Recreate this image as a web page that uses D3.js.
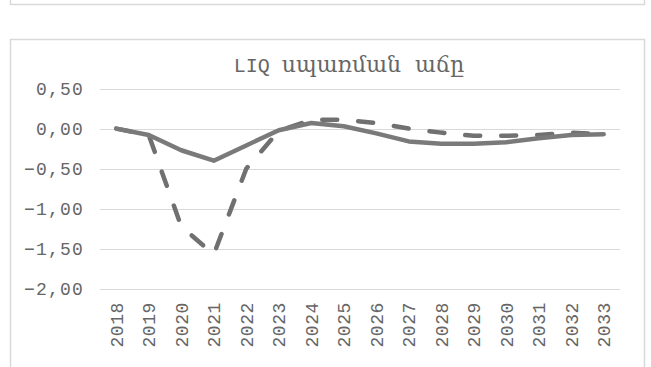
<!DOCTYPE html>
<html>
<head>
<meta charset="utf-8">
<script src="https://cdn.jsdelivr.net/npm/d3@7"></script>
<style>
  html, body { margin: 0; padding: 0; background: #ffffff; }
  svg { display: block; }
</style>
</head>
<body>
<svg id="chart" width="651" height="367"></svg>
<script>
// Years on the horizontal axis
const years = ["2018","2019","2020","2021","2022","2023","2024","2025",
               "2026","2027","2028","2029","2030","2031","2032","2033"];
// Solid line series
const seriesSolid = [0.00, -0.08, -0.27, -0.40, -0.21, -0.02, 0.07, 0.03,
                     -0.06, -0.16, -0.19, -0.19, -0.17, -0.12, -0.08, -0.07];
// Dashed line series
const seriesDashed = [0.00, -0.08, -1.22, -1.57, -0.50, -0.03, 0.11, 0.11,
                      0.07, 0.00, -0.05, -0.09, -0.09, -0.08, -0.05, -0.07];
// Value-axis ticks
const yTicks = [0.5, 0, -0.5, -1, -1.5, -2];
// Title pieces: Latin code and Armenian caption
const titleCode = "LIQ";
const titleWords = "սպառման  աճը";

const svg = d3.select("#chart");
const monoFont = "'Liberation Mono', 'DejaVu Sans Mono', monospace";
const textGray = "#666666";

// Frames of the chart boxes
svg.append("rect")
  .attr("x", 10.5).attr("y", -20).attr("width", 634).attr("height", 24.5)
  .attr("fill", "none").attr("stroke", "#d9d9d9").attr("stroke-width", 1.5);
svg.append("rect")
  .attr("x", 10.5).attr("y", 39.5).attr("width", 634).attr("height", 360)
  .attr("fill", "#ffffff").attr("stroke", "#d9d9d9").attr("stroke-width", 1.5);

const x = d3.scaleBand().domain(years).range([100, 620]);
const y = d3.scaleLinear().domain([-2, 0.5]).range([289, 88.5]);

const fmt = v => d3.format(".2f")(v).replace(".", ",").replace("-", "\u2212");

// Horizontal gridlines
svg.append("g")
  .selectAll("line")
  .data(yTicks)
  .join("line")
  .attr("x1", 100).attr("x2", 620)
  .attr("y1", d => Math.round(y(d)) + 0.5)
  .attr("y2", d => Math.round(y(d)) + 0.5)
  .attr("stroke", "#d9d9d9").attr("stroke-width", 1);

// Value axis labels
const yAxis = d3.axisLeft(y).tickValues(yTicks).tickFormat(fmt).tickSize(0).tickPadding(0);
const yg = svg.append("g").attr("transform", "translate(84,0)").call(yAxis);
yg.select(".domain").remove();
yg.selectAll("text")
  .attr("fill", textGray)
  .style("font-family", monoFont)
  .style("font-size", "18px")
  .style("letter-spacing", "1.2px");

// Category axis labels, rotated
const xAxis = d3.axisBottom(x).tickSize(0).tickPadding(0);
const xg = svg.append("g").attr("transform", "translate(0,289)").call(xAxis);
xg.select(".domain").remove();
xg.selectAll("text")
  .attr("fill", textGray)
  .attr("transform", "rotate(-90)")
  .attr("text-anchor", "end")
  .attr("x", -13)
  .attr("y", 0)
  .attr("dy", "0.35em")
  .style("font-family", monoFont)
  .style("font-size", "18px")
  .style("letter-spacing", "0.6px");

// Title
const title = svg.append("text")
  .attr("x", 349).attr("y", 72)
  .attr("text-anchor", "middle")
  .attr("fill", textGray)
  .attr("font-family", "'Liberation Mono', monospace")
  .attr("font-size", 20)
  .style("white-space", "pre");
title.append("tspan")
  .text(titleCode + " ");
title.append("tspan")
  .attr("font-family", "'DejaVu Serif', serif")
  .attr("font-size", 22)
  .text(titleWords);

const cx = d => x(d) + x.bandwidth() / 2;

const line = d3.line()
  .x((d, i) => cx(years[i]))
  .y(d => y(d));

svg.append("path")
  .datum(seriesDashed)
  .attr("d", line)
  .attr("fill", "none")
  .attr("stroke", "#707070")
  .attr("stroke-width", 4.5)
  .attr("stroke-linecap", "round")
  .attr("stroke-linejoin", "round")
  .attr("stroke-dasharray", "15,21");

svg.append("path")
  .datum(seriesSolid)
  .attr("d", line)
  .attr("fill", "none")
  .attr("stroke", "#7a7a7a")
  .attr("stroke-width", 4.5)
  .attr("stroke-linecap", "round")
  .attr("stroke-linejoin", "round");
</script>
</body>
</html>
